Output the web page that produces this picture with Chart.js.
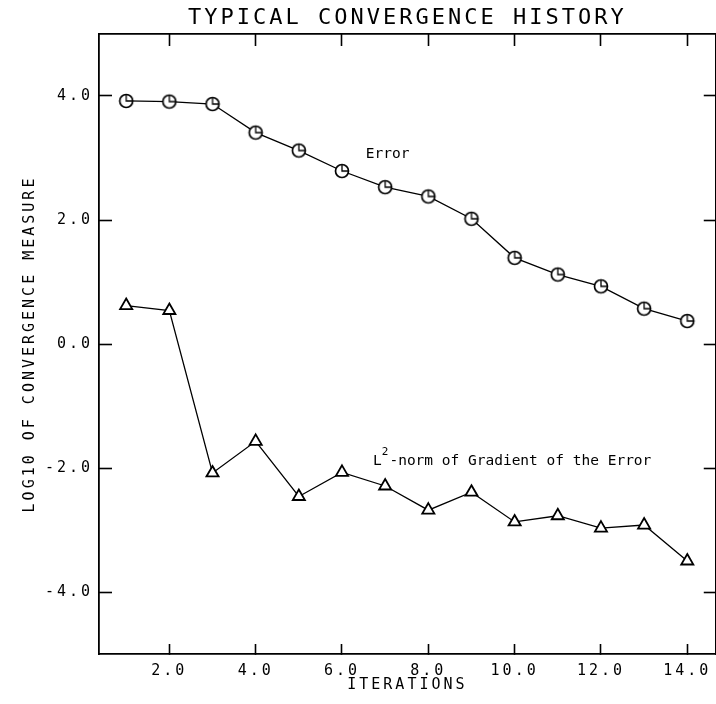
<!DOCTYPE html>
<html>
<head>
<meta charset="utf-8">
<script src="https://cdn.jsdelivr.net/npm/chart.js@4"></script>
<style>
  html, body { margin: 0; padding: 0; background: #fff; overflow: hidden; }
  canvas { display: block; }
</style>
</head>
<body>
<canvas id="chart" width="730" height="704"></canvas>
<script>
const MONO = "'DejaVu Sans Mono', monospace";

const iterations = [1, 2, 3, 4, 5, 6, 7, 8, 9, 10, 11, 12, 13, 14];
const errorLog = [3.92, 3.91, 3.87, 3.41, 3.12, 2.79, 2.53, 2.38, 2.02, 1.39, 1.12, 0.93, 0.57, 0.37];
const gradientLog = [0.62, 0.54, -2.08, -1.57, -2.46, -2.07, -2.29, -2.68, -2.39, -2.87, -2.77, -2.97, -2.92, -3.50];

const xTickValues = [2, 4, 6, 8, 10, 12, 14];
const yTickValues = [-4, -2, 0, 2, 4];

// where the two curve captions start, in data units
const errorLabelAt = [6.55, 3.06];
const gradientLabelAt = [6.72, -1.89];

// plotter style circle: open ring with a little quarter mark inside
function circleMarker() {
  const c = document.createElement("canvas");
  c.width = 18;
  c.height = 18;
  const g = c.getContext("2d");
  g.strokeStyle = "#000";
  g.fillStyle = "#fff";
  g.lineWidth = 1.7;
  g.beginPath();
  g.arc(9, 9, 6.5, 0, Math.PI * 2);
  g.fill();
  g.stroke();
  g.lineWidth = 1.3;
  g.beginPath();
  g.moveTo(9, 2.8);
  g.lineTo(9, 9);
  g.lineTo(15, 9);
  g.stroke();
  return c;
}

const pick = (vals) => (axis) => {
  axis.ticks = vals.map((v) => ({ value: v }));
};

const frame = { display: true, color: "#000", width: 1.8 };

// all the plotter lettering is widely spaced
const spacedText = {
  id: "spacedText",
  beforeLayout(chart) {
    chart.ctx.letterSpacing = "3px";
  },
  beforeDraw(chart) {
    chart.ctx.letterSpacing = "3px";
  },
};

const curveLabels = {
  id: "curveLabels",
  afterDatasetsDraw(chart) {
    const { ctx } = chart;
    const { x, y } = chart.scales;
    ctx.save();
    ctx.letterSpacing = "0px";
    ctx.fillStyle = "#000";
    ctx.textAlign = "left";
    ctx.textBaseline = "middle";
    ctx.font = `14.5px ${MONO}`;
    ctx.fillText("Error", x.getPixelForValue(errorLabelAt[0]), y.getPixelForValue(errorLabelAt[1]));

    let px = x.getPixelForValue(gradientLabelAt[0]);
    const py = y.getPixelForValue(gradientLabelAt[1]);
    ctx.fillText("L", px, py);
    px += ctx.measureText("L").width;
    ctx.font = `11px ${MONO}`;
    ctx.fillText("2", px, py - 9);
    px += ctx.measureText("2").width + 1;
    ctx.font = `14.5px ${MONO}`;
    ctx.fillText("-norm of Gradient of the Error", px, py);
    ctx.restore();
  },
};

new Chart(document.getElementById("chart"), {
  type: "line",
  plugins: [spacedText, curveLabels],
  data: {
    datasets: [
      {
        label: "Error",
        data: iterations.map((it, i) => ({ x: it, y: errorLog[i] })),
        borderColor: "#000",
        borderWidth: 1.3,
        pointStyle: circleMarker(),
        pointRadius: 7,
      },
      {
        label: "L2-norm of Gradient of the Error",
        data: iterations.map((it, i) => ({ x: it, y: gradientLog[i] })),
        borderColor: "#000",
        borderWidth: 1.3,
        pointStyle: "triangle",
        pointRadius: 7,
        pointBorderWidth: 1.8,
        pointBackgroundColor: "#fff",
        pointBorderColor: "#000",
      },
    ],
  },
  options: {
    responsive: false,
    animation: false,
    devicePixelRatio: 1,
    events: [],
    layout: { padding: { left: 0, right: 8, top: 0, bottom: 0 } },
    plugins: {
      legend: { display: false },
      tooltip: { enabled: false },
      title: {
        display: true,
        fullSize: false,
        text: "TYPICAL CONVERGENCE HISTORY",
        color: "#000",
        font: { family: MONO, size: 22, weight: "normal" },
        padding: { top: 4.8, bottom: 2.8 },
      },
    },
    scales: {
      x: {
        type: "linear",
        position: "bottom",
        min: 0.37,
        max: 14.66,
        afterBuildTicks: pick(xTickValues),
        afterFit: (axis) => {
          axis.height = 50;
        },
        grid: { drawOnChartArea: false, tickLength: -10, tickColor: "#000", tickWidth: 1.6 },
        border: frame,
        ticks: {
          autoSkip: false,
          maxRotation: 0,
          padding: 18,
          color: "#000",
          font: { family: MONO, size: 15 },
          callback: (v) => Number(v).toFixed(1),
        },
        title: {
          display: true,
          text: "ITERATIONS",
          color: "#000",
          font: { family: MONO, size: 15 },
          padding: { top: 4, bottom: 10 },
        },
      },
      x2: {
        type: "linear",
        position: "top",
        min: 0.37,
        max: 14.66,
        afterBuildTicks: pick(xTickValues),
        afterFit: (axis) => {
          axis.height = 0;
        },
        grid: { drawOnChartArea: false, tickLength: -12, tickColor: "#000", tickWidth: 1.6 },
        border: frame,
        ticks: { display: false },
      },
      y: {
        type: "linear",
        position: "left",
        min: -5,
        max: 5,
        afterBuildTicks: pick(yTickValues),
        afterFit: (axis) => {
          axis.width = 99;
        },
        grid: { drawOnChartArea: false, tickLength: -13, tickColor: "#000", tickWidth: 1.6 },
        border: frame,
        ticks: {
          padding: 19,
          color: "#000",
          font: { family: MONO, size: 15 },
          callback: (v) => Number(v).toFixed(1),
        },
        title: {
          display: true,
          text: "LOG10 OF CONVERGENCE MEASURE",
          color: "#000",
          font: { family: MONO, size: 15 },
          padding: { top: 21, bottom: 0 },
        },
      },
      y2: {
        type: "linear",
        position: "right",
        min: -5,
        max: 5,
        afterBuildTicks: pick(yTickValues),
        afterFit: (axis) => {
          axis.width = 0;
        },
        grid: { drawOnChartArea: false, tickLength: -12, tickColor: "#000", tickWidth: 1.6 },
        border: frame,
        ticks: { display: false },
      },
    },
  },
});
</script>
</body>
</html>
